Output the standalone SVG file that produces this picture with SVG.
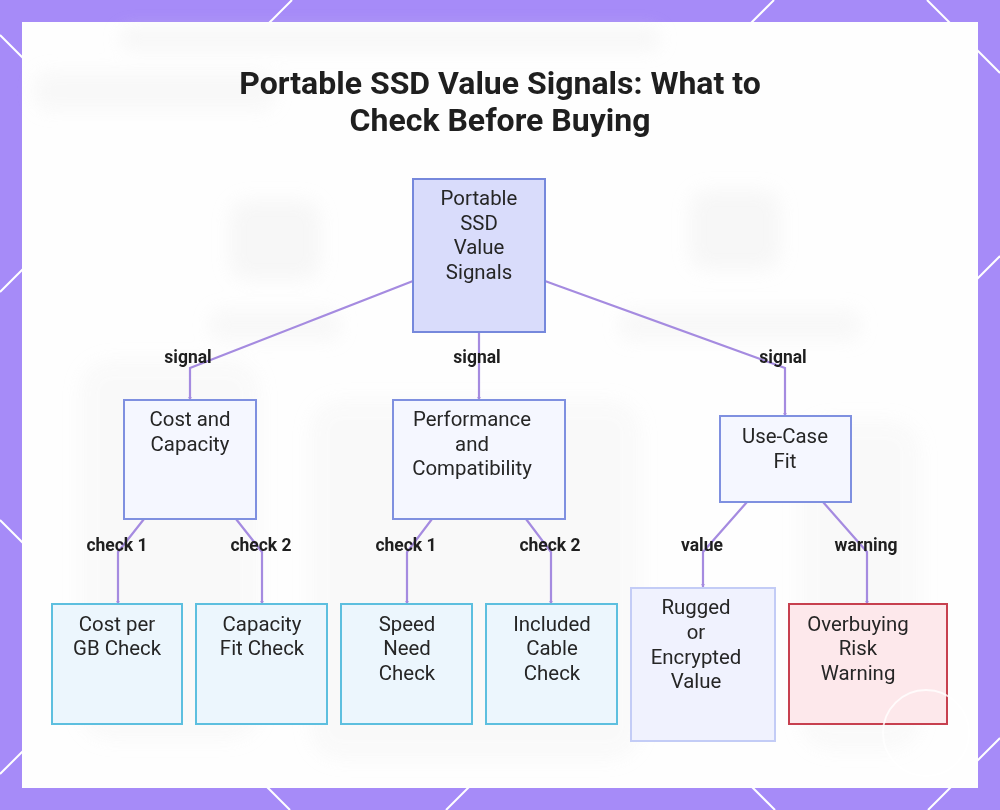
<svg xmlns="http://www.w3.org/2000/svg" width="1000" height="810" viewBox="0 0 1000 810">
  <defs>
    <style>
      .frame-line { stroke: #ffffff; stroke-width: 2; }
      .title { font-family: Roboto, "Liberation Sans", sans-serif; font-weight: 700; font-size: 32px; fill: #1f1f1f; text-anchor: middle; }
      .node-text { font-family: Roboto, "Liberation Sans", sans-serif; font-size: 20.4px; fill: #262626; text-anchor: middle; }
      .edge-label { font-family: Roboto, "Liberation Sans", sans-serif; font-weight: 700; font-size: 17.5px; fill: #1f1f1f; text-anchor: middle; }
      .edge { fill: none; stroke: #a58be0; stroke-width: 2.2; marker-end: url(#arrow); }
      .root { fill: #d9dcfb; stroke: #7688dc; stroke-width: 2; }
      .mid { fill: #f5f7ff; stroke: #7f90e0; stroke-width: 2; }
      .leaf { fill: #ecf6fd; stroke: #5dbfdf; stroke-width: 2; }
      .soft { fill: #f0f2fe; stroke: #c3ccf6; stroke-width: 2; }
      .warn { fill: #fde8eb; stroke: #c7404f; stroke-width: 2; }
      .blob { fill: #e9e9e9; }
    </style>
    <marker id="arrow" viewBox="0 0 6 6" refX="5" refY="3" markerWidth="4" markerHeight="4" orient="auto" markerUnits="userSpaceOnUse">
      <path d="M0,0 L6,3 L0,6 Z" fill="#a58be0"/>
    </marker>
    <filter id="blur" x="-20%" y="-20%" width="140%" height="140%">
      <feGaussianBlur stdDeviation="9"/>
    </filter>
  </defs>

  <!-- frame -->
  <rect x="0" y="0" width="1000" height="810" fill="#a68bf8"/>
  <g class="frame-line">
    <line x1="0" y1="35" x2="775" y2="810"/>
    <line x1="0" y1="520" x2="290" y2="810"/>
    <line x1="927" y1="0" x2="1000" y2="73"/>
    <line x1="292" y1="0" x2="0" y2="292"/>
    <line x1="774" y1="0" x2="0" y2="774"/>
    <line x1="1000" y1="256" x2="446" y2="810"/>
    <line x1="1000" y1="738" x2="928" y2="810"/>
  </g>
  <rect x="22" y="22" width="956" height="766" fill="#fefefe"/>

  <!-- faint blurred background scene -->
  <g filter="url(#blur)" opacity="0.55">
    <rect class="blob" x="120" y="28" width="540" height="22" rx="10" opacity="0.6"/>
    <rect class="blob" x="35" y="72" width="240" height="38" rx="14" opacity="0.5"/>
    <rect class="blob" x="230" y="200" width="90" height="80" rx="18" opacity="0.6"/>
    <rect class="blob" x="690" y="190" width="90" height="80" rx="18" opacity="0.6"/>
    <rect class="blob" x="210" y="310" width="130" height="30" rx="10" opacity="0.5"/>
    <rect class="blob" x="620" y="310" width="240" height="30" rx="10" opacity="0.5"/>
    <rect class="blob" x="80" y="360" width="180" height="380" rx="30" opacity="0.35"/>
    <rect class="blob" x="310" y="400" width="330" height="360" rx="30" opacity="0.35"/>
    <rect class="blob" x="800" y="420" width="120" height="330" rx="30" opacity="0.35"/>
  </g>

  <!-- title -->
  <text class="title" x="500" y="94">Portable SSD Value Signals: What to</text>
  <text class="title" x="500" y="131">Check Before Buying</text>

  <!-- connectors -->
  <g id="connectors">
    <polyline class="edge" points="413,281 190,368 190,400"/>
    <polyline class="edge" points="479,332 479,400"/>
    <polyline class="edge" points="545,281 785,368 785,416"/>
    <polyline class="edge" points="144,519 118,552 118,604"/>
    <polyline class="edge" points="236,519 262,552 262,604"/>
    <polyline class="edge" points="432,519 407,552 407,604"/>
    <polyline class="edge" points="526,519 551,552 551,604"/>
    <polyline class="edge" points="747,502 703,552 703,587"/>
    <polyline class="edge" points="823,502 867,552 867,604"/>
    <g id="edge-labels">
      <text class="edge-label" x="188" y="363">signal</text>
      <text class="edge-label" x="477" y="363">signal</text>
      <text class="edge-label" x="783" y="363">signal</text>
      <text class="edge-label" x="117" y="551">check 1</text>
      <text class="edge-label" x="261" y="551">check 2</text>
      <text class="edge-label" x="406" y="551">check 1</text>
      <text class="edge-label" x="550" y="551">check 2</text>
      <text class="edge-label" x="702" y="551">value</text>
      <text class="edge-label" x="866" y="551">warning</text>
    </g>
  </g>

  <!-- nodes -->
  <g id="node-root">
    <rect class="root" x="413" y="179" width="132" height="153"/>
    <text class="node-text" x="479" y="205">Portable</text>
    <text class="node-text" x="479" y="230">SSD</text>
    <text class="node-text" x="479" y="254">Value</text>
    <text class="node-text" x="479" y="279">Signals</text>
  </g>
  <g id="node-cost-capacity">
    <rect class="mid" x="124" y="400" width="132" height="119"/>
    <text class="node-text" x="190" y="426">Cost and</text>
    <text class="node-text" x="190" y="451">Capacity</text>
  </g>
  <g id="node-performance">
    <rect class="mid" x="393" y="400" width="172" height="119"/>
    <text class="node-text" x="472" y="426">Performance</text>
    <text class="node-text" x="472" y="451">and</text>
    <text class="node-text" x="472" y="475">Compatibility</text>
  </g>
  <g id="node-use-case">
    <rect class="mid" x="720" y="416" width="131" height="86"/>
    <text class="node-text" x="785" y="443">Use-Case</text>
    <text class="node-text" x="785" y="468">Fit</text>
  </g>
  <g id="node-cost-per-gb">
    <rect class="leaf" x="52" y="604" width="130" height="120"/>
    <text class="node-text" x="117" y="631">Cost per</text>
    <text class="node-text" x="117" y="655">GB Check</text>
  </g>
  <g id="node-capacity-fit">
    <rect class="leaf" x="196" y="604" width="131" height="120"/>
    <text class="node-text" x="262" y="631">Capacity</text>
    <text class="node-text" x="262" y="655">Fit Check</text>
  </g>
  <g id="node-speed-need">
    <rect class="leaf" x="341" y="604" width="131" height="120"/>
    <text class="node-text" x="407" y="631">Speed</text>
    <text class="node-text" x="407" y="655">Need</text>
    <text class="node-text" x="407" y="680">Check</text>
  </g>
  <g id="node-included-cable">
    <rect class="leaf" x="486" y="604" width="131" height="120"/>
    <text class="node-text" x="552" y="631">Included</text>
    <text class="node-text" x="552" y="655">Cable</text>
    <text class="node-text" x="552" y="680">Check</text>
  </g>
  <g id="node-rugged">
    <rect class="soft" x="631" y="588" width="144" height="153"/>
    <text class="node-text" x="696" y="614">Rugged</text>
    <text class="node-text" x="696" y="639">or</text>
    <text class="node-text" x="696" y="664">Encrypted</text>
    <text class="node-text" x="696" y="688">Value</text>
  </g>
  <g id="node-overbuying">
    <rect class="warn" x="789" y="604" width="158" height="120"/>
    <text class="node-text" x="858" y="631">Overbuying</text>
    <text class="node-text" x="858" y="655">Risk</text>
    <text class="node-text" x="858" y="680">Warning</text>
  </g>

  <!-- faint watermark circle -->
  <circle cx="926" cy="733" r="43" fill="none" stroke="#ffffff" stroke-width="2" opacity="0.8"/>
</svg>
